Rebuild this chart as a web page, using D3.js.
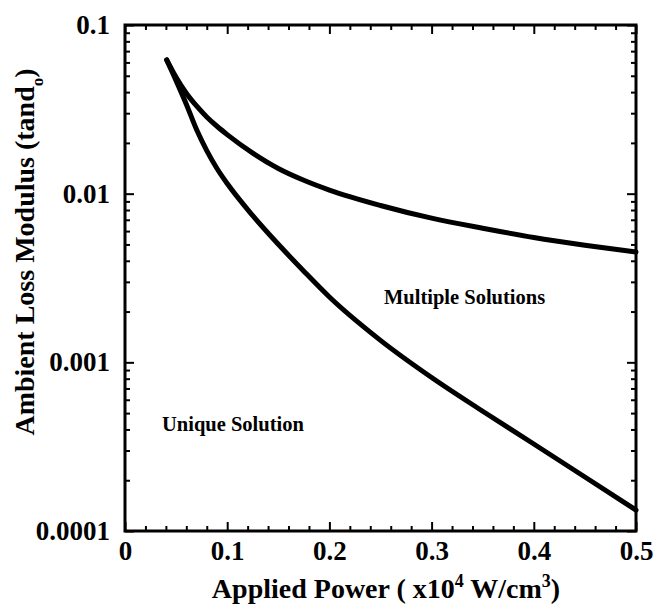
<!DOCTYPE html>
<html>
<head>
<meta charset="utf-8">
<script src="https://cdn.jsdelivr.net/npm/d3@7"></script>
<style>
  body { margin: 0; background: #fff; }
  text { font-family: "Liberation Serif", "Times New Roman", serif; font-weight: bold; }
</style>
</head>
<body>
<div id="plot"></div>
<script>
// Width and height
const w = 657;
const h = 606;
const margin = {top: 25, right: 21, bottom: 75, left: 125};
const innerWidth = w - margin.left - margin.right;
const innerHeight = h - margin.top - margin.bottom;

// data
const upperX = [0.0408, 0.05, 0.06, 0.07, 0.08, 0.09, 0.10, 0.125, 0.15, 0.175, 0.20, 0.25, 0.30, 0.35, 0.40, 0.45, 0.50];
const upperY = [0.0621, 0.0490, 0.0394, 0.0331, 0.0285, 0.0251, 0.0224, 0.0174, 0.0141, 0.0120, 0.0105, 0.00851, 0.00716, 0.00624, 0.00550, 0.00495, 0.00451];
const lowerX = [0.0408, 0.05, 0.06, 0.07, 0.08, 0.09, 0.10, 0.125, 0.15, 0.175, 0.20, 0.25, 0.30, 0.35, 0.40, 0.45, 0.50];
const lowerY = [0.0621, 0.0468, 0.0339, 0.0240, 0.0180, 0.0141, 0.01148, 0.00741, 0.00501, 0.00347, 0.00244, 0.00135, 0.000813, 0.000513, 0.000328, 0.000209, 0.000133];

const xTickValues = [0, 0.1, 0.2, 0.3, 0.4, 0.5];
const xTickLabels = ["0", "0.1", "0.2", "0.3", "0.4", "0.5"];
const yTickValues = [0.0001, 0.001, 0.01, 0.1];
const yTickLabels = ["0.0001", "0.001", "0.01", "0.1"];

const svg = d3.select("div#plot")
  .append("svg")
    .attr("width", w)
    .attr("height", h);

svg.append("rect")
  .attr("width", w)
  .attr("height", h)
  .attr("fill", "#fff");

const g = svg.append("g")
  .attr("id", "plot")
  .attr("transform", `translate(${margin.left}, ${margin.top})`);

const xScale = d3.scaleLinear()
  .domain([0, 0.5])
  .range([0, innerWidth]);

const yScale = d3.scaleLog()
  .domain([0.0001, 0.1])
  .range([innerHeight, 0]);

// minor ticks
const xMinor = d3.range(0, 0.5001, 0.02).filter(v => Math.abs(v * 10 - Math.round(v * 10)) > 1e-6);
const yMinor = [];
[0.0001, 0.001, 0.01].forEach(d => { for (let k = 2; k <= 9; k++) yMinor.push(d * k); });

function styleAxis(sel) {
  sel.select(".domain").remove();
  sel.selectAll("line").attr("stroke", "#000").attr("stroke-width", 2);
  sel.selectAll("text").attr("fill", "#000").style("font-size", "27px");
}
function minorAxis(sel) {
  styleAxis(sel);
  sel.selectAll("text").remove();
}

// x axis (bottom) major + minor
g.append("g")
  .attr("transform", `translate(0, ${innerHeight})`)
  .call(d3.axisBottom(xScale).tickValues(xTickValues).tickSize(-9).tickPadding(10)
    .tickFormat((d, i) => xTickLabels[i]))
  .call(styleAxis);
g.append("g")
  .attr("transform", `translate(0, ${innerHeight})`)
  .call(d3.axisBottom(xScale).tickValues(xMinor).tickSize(-5))
  .call(minorAxis);
// x axis (top)
g.append("g")
  .call(d3.axisTop(xScale).tickValues(xTickValues).tickSize(-9))
  .call(minorAxis);
g.append("g")
  .call(d3.axisTop(xScale).tickValues(xMinor).tickSize(-5))
  .call(minorAxis);

// y axis (left)
g.append("g")
  .call(d3.axisLeft(yScale).tickValues(yTickValues).tickSize(-9).tickPadding(15)
    .tickFormat((d, i) => yTickLabels[i]))
  .call(styleAxis);
g.append("g")
  .call(d3.axisLeft(yScale).tickValues(yMinor).tickSize(-5))
  .call(minorAxis);
// y axis (right)
g.append("g")
  .attr("transform", `translate(${innerWidth}, 0)`)
  .call(d3.axisRight(yScale).tickValues(yTickValues).tickSize(-9))
  .call(minorAxis);
g.append("g")
  .attr("transform", `translate(${innerWidth}, 0)`)
  .call(d3.axisRight(yScale).tickValues(yMinor).tickSize(-5))
  .call(minorAxis);

// frame
g.append("rect")
  .attr("width", innerWidth)
  .attr("height", innerHeight)
  .attr("fill", "none")
  .attr("stroke", "#000")
  .attr("stroke-width", 3);

// curves
const line = d3.line()
  .x(d => xScale(d[0]))
  .y(d => yScale(d[1]))
  .curve(d3.curveMonotoneX);

[[upperX, upperY], [lowerX, lowerY]].forEach(([xs, ys]) => {
  g.append("path")
    .datum(xs.map((x, i) => [x, ys[i]]))
    .attr("d", line)
    .attr("fill", "none")
    .attr("stroke", "#000")
    .attr("stroke-width", 5)
    .attr("stroke-linecap", "round");
});

// region labels
g.append("text")
  .attr("x", xScale(0.2534))
  .attr("y", yScale(0.00222))
  .style("font-size", "20.5px")
  .text("Multiple Solutions");

g.append("text")
  .attr("x", xScale(0.0362))
  .attr("y", yScale(0.000392))
  .style("font-size", "20.5px")
  .text("Unique Solution");

// x-axis label
const xlab = svg.append("text")
  .attr("x", 386)
  .attr("y", 598)
  .attr("text-anchor", "middle")
  .style("font-size", "28px");
xlab.append("tspan").text("Applied Power ( x10");
xlab.append("tspan").attr("dy", -11).style("font-size", "18px").text("4");
xlab.append("tspan").attr("dy", 11).text(" W/cm");
xlab.append("tspan").attr("dy", -11).style("font-size", "18px").text("3");
xlab.append("tspan").attr("dy", 11).text(")");

// y-axis label
const ylab = svg.append("text")
  .attr("transform", "rotate(-90)")
  .attr("x", -252)
  .attr("y", 34)
  .attr("text-anchor", "middle")
  .style("font-size", "28px");
ylab.append("tspan").text("Ambient Loss Modulus (tand");
ylab.append("tspan").attr("dy", 9).style("font-size", "17px").text("o");
ylab.append("tspan").attr("dy", -9).text(")");
</script>
</body>
</html>
